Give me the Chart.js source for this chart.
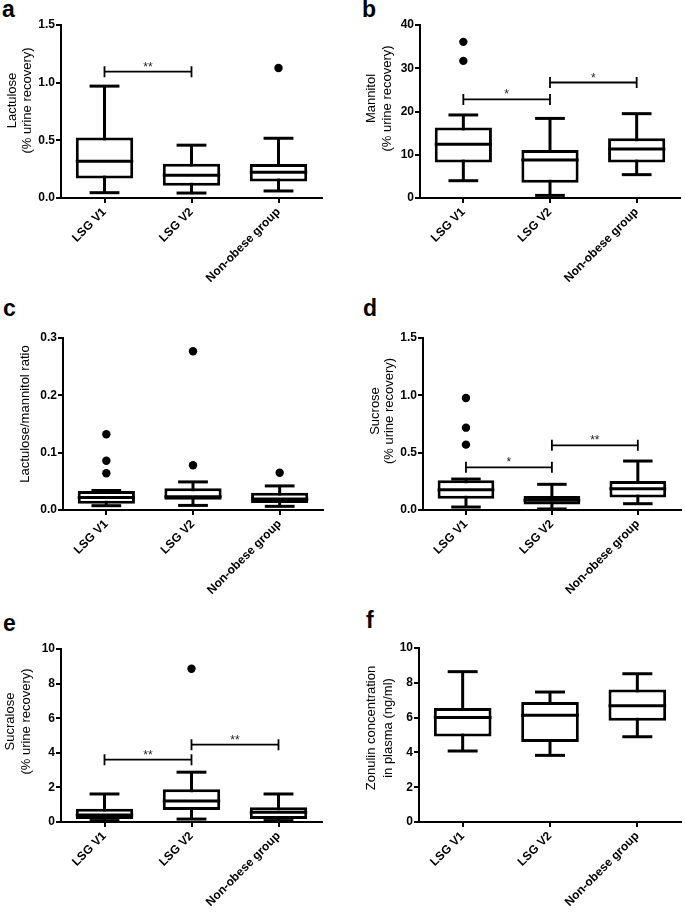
<!DOCTYPE html>
<html>
<head>
<meta charset="utf-8">
<script src="https://cdn.jsdelivr.net/npm/chart.js@4.4.1/dist/chart.umd.min.js"></script>
<style>
html,body{margin:0;padding:0;background:#fff;width:685px;height:919px;overflow:hidden;position:relative;font-family:"Liberation Sans",Arial,sans-serif}
canvas{position:absolute}
.lbl{position:absolute;font:bold 23px/23px "Liberation Sans",Arial,sans-serif;color:#000}
</style>
</head>
<body>
<div class="lbl" style="left:2px;top:-2px">a</div>
<div class="lbl" style="left:362px;top:-2px">b</div>
<div class="lbl" style="left:3px;top:297px">c</div>
<div class="lbl" style="left:363px;top:297px">d</div>
<div class="lbl" style="left:3px;top:612px">e</div>
<div class="lbl" style="left:366px;top:609px">f</div>

<canvas id="cA" width="340" height="300" style="left:0;top:0"></canvas>
<canvas id="cB" width="345" height="300" style="left:340px;top:0"></canvas>
<canvas id="cC" width="340" height="300" style="left:0;top:313px"></canvas>
<canvas id="cD" width="345" height="300" style="left:340px;top:313px"></canvas>
<canvas id="cE" width="340" height="295" style="left:0;top:624px"></canvas>
<canvas id="cF" width="345" height="295" style="left:340px;top:624px"></canvas>

<script>
// ---------------- DATA ----------------
const categories = ['LSG V1', 'LSG V2', 'Non-obese group'];

// five-number summaries per group: [min, Q1, median, Q3, max]
const lactuloseStats = [[0.046, 0.168, 0.319, 0.524, 0.970], [0.043, 0.107, 0.197, 0.298, 0.458], [0.061, 0.142, 0.223, 0.295, 0.518]];
const lactuloseOutliers = [[], [], [1.127]];
const lactuloseSig = [[0, 1, 1.095, '**']];
const lactuloseTicks = ['0.0', '0.5', '1.0', '1.5'];

const mannitolStats = [[4.0, 8.2, 12.4, 16.3, 19.2], [0.6, 3.5, 8.8, 11.1, 18.4], [5.4, 8.2, 11.35, 13.8, 19.5]];
const mannitolOutliers = [[36.1, 31.7], [], []];
const mannitolSig = [[0, 1, 22.8, '*'], [1, 2, 26.7, '*']];
const mannitolTicks = ['0', '10', '20', '30', '40'];

const ratioStats = [[0.0075, 0.011, 0.022, 0.033, 0.034], [0.008, 0.018, 0.023, 0.038, 0.049], [0.0064, 0.012, 0.019, 0.030, 0.042]];
const ratioOutliers = [[0.132, 0.086, 0.064], [0.078, 0.277], [0.065]];
const ratioSig = [];
const ratioTicks = ['0.0', '0.1', '0.2', '0.3'];

const sucroseStats = [[0.026, 0.099, 0.177, 0.259, 0.270], [0.009, 0.049, 0.084, 0.122, 0.224], [0.055, 0.108, 0.186, 0.253, 0.427]];
const sucroseOutliers = [[0.977, 0.718, 0.570], [], []];
const sucroseSig = [[0, 1, 0.372, '*'], [1, 2, 0.564, '**']];
const sucroseTicks = ['0.0', '0.5', '1.0', '1.5'];

const sucraloseStats = [[0.08, 0.17, 0.41, 0.77, 1.62], [0.17, 0.70, 1.22, 1.90, 2.88], [0.08, 0.17, 0.56, 0.85, 1.62]];
const sucraloseOutliers = [[], [8.86], []];
const sucraloseSig = [[0, 1, 3.6, '**'], [1, 2, 4.47, '**']];
const sucraloseTicks = ['0', '2', '4', '6', '8', '10'];

const zonulinStats = [[4.08, 4.92, 6.00, 6.55, 8.64], [3.83, 4.60, 6.13, 6.90, 7.47], [4.90, 5.82, 6.68, 7.62, 8.52]];
const zonulinOutliers = [[], [], []];
const zonulinSig = [];
const zonulinTicks = ['0', '2', '4', '6', '8', '10'];

// ---------------- PANELS ----------------
const FONT = "'Liberation Sans', Arial, sans-serif";
const panels = [
  {id: 'cA', stats: lactuloseStats, outliers: lactuloseOutliers, sig: lactuloseSig, ticks: lactuloseTicks,
   title: ['Lactulose', '(% urine recovery)'], yw: 61, pad: {top: 25, right: 18}, xh: 102, titleX: [12.5, 27.5], titleDy: -11},
  {id: 'cB', stats: mannitolStats, outliers: mannitolOutliers, sig: mannitolSig, ticks: mannitolTicks,
   title: ['Mannitol', '(% urine recovery)'], yw: 80, pad: {top: 25, right: 5}, xh: 102, titleX: [31, 47], titleDy: -13},
  {id: 'cC', stats: ratioStats, outliers: ratioOutliers, sig: ratioSig, ticks: ratioTicks,
   title: ['Lactulose/mannitol ratio'], yw: 63, pad: {top: 25, right: 17}, xh: 103, titleX: [25], titleDy: -10},
  {id: 'cD', stats: sucroseStats, outliers: sucroseOutliers, sig: sucroseSig, ticks: sucroseTicks,
   title: ['Sucrose', '(% urine recovery)'], yw: 83, pad: {top: 25, right: 2}, xh: 103, titleX: [35, 49], titleDy: -13},
  {id: 'cE', stats: sucraloseStats, outliers: sucraloseOutliers, sig: sucraloseSig, ticks: sucraloseTicks,
   title: ['Sucralose', '(% urine recovery)'], yw: 61, pad: {top: 25, right: 18}, xh: 97, titleX: [10, 26], titleDy: -14},
  {id: 'cF', stats: zonulinStats, outliers: zonulinOutliers, sig: zonulinSig, ticks: zonulinTicks,
   title: ['Zonulin concentration', 'in plasma (ng/ml)'], yw: 79, pad: {top: 24, right: 4}, xh: 97, titleX: [31.5, 48], titleDy: -7}
];

const LW = 3;

function makeBoxPlugin(p) {
  return {
    id: 'boxplot_' + p.id,
    beforeDatasetsDraw(chart) {
      const {ctx} = chart; const x = chart.scales.x, y = chart.scales.y;
      ctx.save();
      ctx.strokeStyle = '#000'; ctx.lineWidth = LW; ctx.lineCap = 'butt';
      p.stats.forEach((s, i) => {
        const px = x.getPixelForValue(i);
        ctx.beginPath();
        ctx.moveTo(px, y.getPixelForValue(s[0]));
        ctx.lineTo(px, y.getPixelForValue(s[4]));
        ctx.stroke();
      });
      ctx.restore();
    },
    afterDatasetsDraw(chart) {
      const {ctx} = chart; const x = chart.scales.x, y = chart.scales.y;
      const bars = chart.getDatasetMeta(0).data;
      ctx.save();
      ctx.strokeStyle = '#000'; ctx.lineWidth = LW; ctx.lineCap = 'butt';
      p.stats.forEach((s, i) => {
        const bar = bars[i];
        const px = bar.x, w = bar.width;
        const cw = w * 0.52;
        [s[0], s[4]].forEach(v => {
          const py = y.getPixelForValue(v);
          ctx.beginPath(); ctx.moveTo(px - cw / 2, py); ctx.lineTo(px + cw / 2, py); ctx.stroke();
        });
        const pm = y.getPixelForValue(s[2]);
        ctx.beginPath(); ctx.moveTo(px - w / 2, pm); ctx.lineTo(px + w / 2, pm); ctx.stroke();
      });
      ctx.lineWidth = 1.8;
      p.sig.forEach(b => {
        const x0 = x.getPixelForValue(b[0]), x1 = x.getPixelForValue(b[1]);
        const py = y.getPixelForValue(b[2]);
        ctx.beginPath();
        ctx.moveTo(x0, py); ctx.lineTo(x1, py);
        ctx.moveTo(x0, py - 5.5); ctx.lineTo(x0, py + 5.5);
        ctx.moveTo(x1, py - 5.5); ctx.lineTo(x1, py + 5.5);
        ctx.stroke();
        ctx.fillStyle = '#222';
        ctx.font = '12px ' + FONT;
        ctx.textAlign = 'center'; ctx.textBaseline = 'alphabetic';
        ctx.fillText(b[3], (x0 + x1) / 2, py - 1);
      });
      ctx.restore();
    },
    afterDraw(chart) {
      const {ctx, chartArea} = chart;
      const cy = (chartArea.top + chartArea.bottom) / 2 + p.titleDy;
      ctx.save();
      ctx.fillStyle = '#000';
      ctx.font = '13px ' + FONT;
      ctx.textAlign = 'center'; ctx.textBaseline = 'middle';
      p.title.forEach((line, i) => {
        ctx.save();
        ctx.translate(p.titleX[i], cy);
        ctx.rotate(-Math.PI / 2);
        ctx.fillText(line, 0, 0);
        ctx.restore();
      });
      ctx.restore();
    }
  };
}

panels.forEach(p => {
  const outlierPoints = [];
  p.outliers.forEach((arr, i) => arr.forEach(v => outlierPoints.push({x: categories[i], y: v})));
  const tickVals = p.ticks.map(Number);
  new Chart(document.getElementById(p.id), {
    type: 'bar',
    data: {
      labels: categories,
      datasets: [
        {
          type: 'bar',
          data: p.stats.map(s => [s[1], s[3]]),
          backgroundColor: '#fff', borderColor: '#000', borderWidth: LW, borderSkipped: false,
          barPercentage: 0.66, categoryPercentage: 1.0, order: 2
        },
        {
          type: 'scatter',
          data: outlierPoints,
          pointRadius: 4.2, pointBackgroundColor: '#000', pointBorderWidth: 0, pointBorderColor: '#000',
          order: 1
        }
      ]
    },
    options: {
      responsive: false, animation: false, devicePixelRatio: 1,
      layout: {padding: {left: 0, top: p.pad.top, right: p.pad.right, bottom: 0}},
      plugins: {legend: {display: false}, tooltip: {enabled: false}},
      scales: {
        x: {
          type: 'category', offset: true,
          grid: {display: true, offset: false, drawOnChartArea: false, drawTicks: true, tickLength: 5, color: '#000', lineWidth: 2},
          border: {display: true, color: '#000', width: 2},
          ticks: {color: '#000', font: {family: FONT, size: 12, weight: 'bold'}, minRotation: 45, maxRotation: 45, padding: 2, autoSkip: false},
          afterFit: s => { s.height = p.xh; }
        },
        y: {
          min: tickVals[0], max: tickVals[tickVals.length - 1],
          afterBuildTicks: s => { s.ticks = tickVals.map(v => ({value: v})); },
          grid: {display: true, drawOnChartArea: false, drawTicks: true, tickLength: 5, color: '#000', lineWidth: 2},
          border: {display: true, color: '#000', width: 2},
          ticks: {color: '#000', font: {family: FONT, size: 12, weight: 'bold'}, padding: 1,
                  callback: (v, i) => p.ticks[i]},
          afterFit: s => { s.width = p.yw; }
        }
      }
    },
    plugins: [makeBoxPlugin(p)]
  });
});
</script>
</body>
</html>
